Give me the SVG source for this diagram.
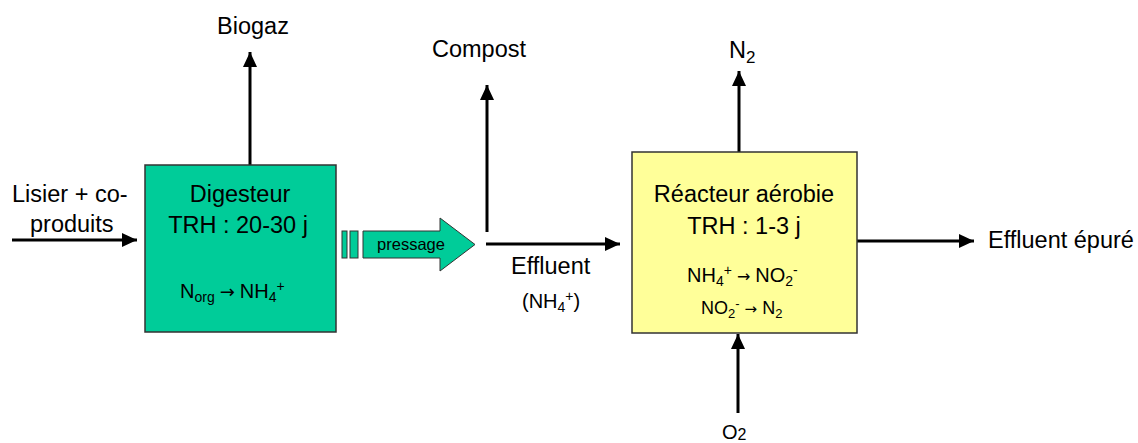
<svg xmlns="http://www.w3.org/2000/svg" width="1138" height="443" viewBox="0 0 1138 443">
<defs>
<marker id="ah" markerUnits="userSpaceOnUse" markerWidth="16" markerHeight="16" viewBox="0 0 16 16" refX="15" refY="8" orient="auto">
<path d="M0,1 L15,8 L0,15 Z" fill="#000"/>
</marker>
</defs>
<style>
text{font-family:"Liberation Sans",Arial,sans-serif;fill:#000}
.t{font-size:23.5px}
.m{font-size:20px}
.s{font-size:18px}
.ar{font-family:"DejaVu Sans",sans-serif}
.box{stroke:#333;stroke-width:1.5}
.c{stroke:#000;stroke-width:3;fill:none}
.a{marker-end:url(#ah)}
</style>
<rect width="1138" height="443" fill="#fff"/>
<g id="connectors">
<line class="c a" x1="250" y1="165" x2="250" y2="52"/>
<line class="c a" x1="12" y1="240" x2="137" y2="240"/>
<line class="c a" x1="487" y1="232" x2="487" y2="85"/>
<line class="c a" x1="486" y1="244" x2="620" y2="244"/>
<line class="c a" x1="739" y1="152" x2="739" y2="71"/>
<line class="c a" x1="738" y1="413" x2="738" y2="334"/>
<line class="c a" x1="857" y1="241" x2="974" y2="241"/>
</g>
<g id="digesteur">
<rect class="box" x="145" y="165" width="191" height="167" fill="#00CC99"/>
<text class="t" x="240" y="202" text-anchor="middle">Digesteur</text>
<text class="t" x="238" y="233" text-anchor="middle">TRH : 20-30 j</text>
<text class="m" x="180" y="298">N<tspan font-size="14" dy="4">org</tspan><tspan class="ar" font-size="18" dx="5" dy="-4">→</tspan><tspan dx="5">NH</tspan><tspan font-size="14" dy="4">4</tspan><tspan font-size="14" dy="-11">+</tspan></text>
</g>
<g id="pressage">
<rect x="342" y="231" width="5" height="27" fill="#00CC99" stroke="#333" stroke-width="1"/>
<rect x="350" y="231" width="8" height="27" fill="#00CC99" stroke="#333" stroke-width="1"/>
<polygon points="363,231 440,231 440,218 475,244.5 440,271 440,258 363,258" fill="#00CC99" stroke="#333" stroke-width="1"/>
<text x="411" y="250" font-size="16.5" text-anchor="middle">pressage</text>
</g>
<g id="reacteur">
<rect class="box" x="632" y="152" width="225" height="181" fill="#FFFF99"/>
<text class="t" x="744" y="202" text-anchor="middle">Réacteur aérobie</text>
<text class="t" x="744" y="234" text-anchor="middle">TRH : 1-3 j</text>
<text class="m" x="687" y="282">NH<tspan font-size="14" dy="4">4</tspan><tspan font-size="14" dy="-11">+</tspan><tspan class="ar" font-size="16" dx="5" dy="7">→</tspan><tspan dx="5">NO</tspan><tspan font-size="14" dy="4">2</tspan><tspan font-size="14" dy="-11">-</tspan></text>
<text class="s" x="701" y="314">NO<tspan font-size="13" dy="4">2</tspan><tspan font-size="13" dy="-10">-</tspan><tspan class="ar" font-size="15" dx="5" dy="6">→</tspan><tspan dx="5">N</tspan><tspan font-size="13" dy="4">2</tspan></text>
</g>
<g id="labels">
<text class="t" x="253" y="34" text-anchor="middle">Biogaz</text>
<text class="t" x="12" y="202">Lisier + co-</text>
<text class="t" x="30" y="232">produits</text>
<text class="t" x="479" y="57" text-anchor="middle">Compost</text>
<text class="t" x="511" y="274">Effluent</text>
<text class="m" x="522" y="308">(NH<tspan font-size="14" dy="4">4</tspan><tspan font-size="14" dy="-11">+</tspan><tspan dy="7">)</tspan></text>
<text class="t" x="729" y="58">N<tspan font-size="17" dy="5">2</tspan></text>
<text class="m" x="722" y="439">O<tspan font-size="16" dy="1">2</tspan></text>
<text class="t" x="988" y="248">Effluent épuré</text>
</g>
</svg>
